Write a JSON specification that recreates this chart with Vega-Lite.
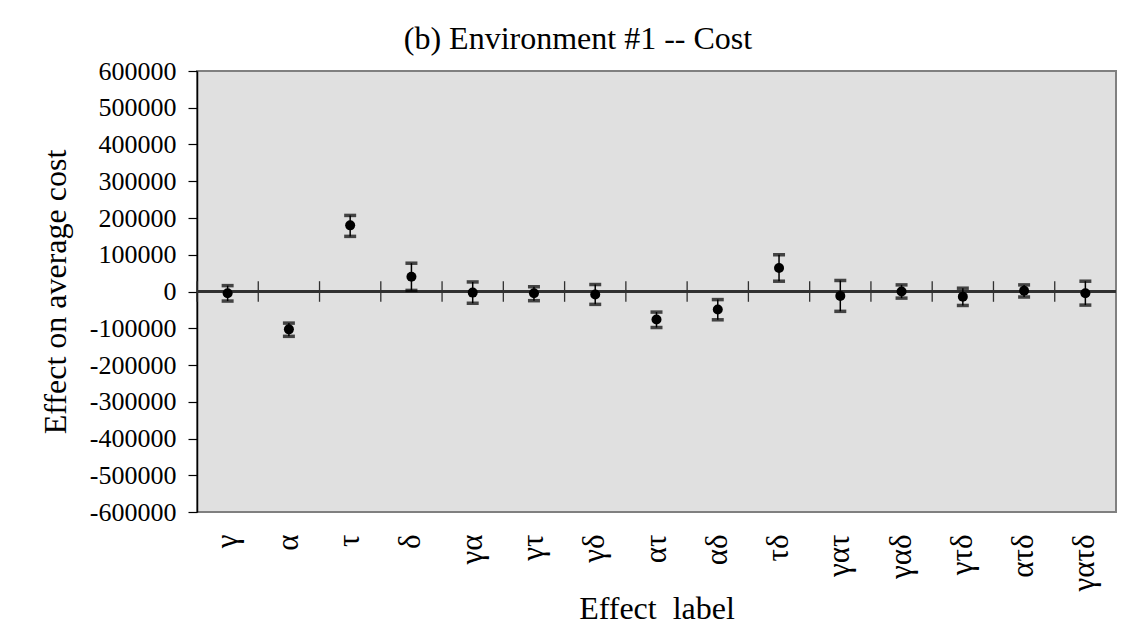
{
  "$schema": "https://vega.github.io/schema/vega-lite/v6.json",
  "autosize": {"type": "none"},
  "padding": {"left": 197, "top": 71, "right": 12, "bottom": 121},
  "width": 919,
  "height": 441,
  "background": "white",
  "config": {
    "font": "Liberation Serif",
    "view": {"fill": "#e0e0e0", "stroke": "#808080", "strokeWidth": 2},
    "axis": {"labelFont": "Liberation Serif", "titleFont": "Liberation Serif", "labelColor": "black", "titleColor": "black", "titleFontWeight": "normal", "labelFontSize": 26, "titleFontSize": 32},
    "axisY": {"tickCount": 20, "labelOverlap": false, "grid": false}
  },
  "title": {"text": "(b) Environment #1 -- Cost", "font": "Liberation Serif", "fontSize": 32, "fontWeight": "normal", "color": "black", "anchor": "middle", "frame": "bounds", "offset": 2},
  "data": {"values": [
    {"label": "γ", "mean": -5000, "lo": -26000, "hi": 16000},
    {"label": "α", "mean": -103000, "lo": -122000, "hi": -86000},
    {"label": "τ", "mean": 180000, "lo": 150000, "hi": 207000},
    {"label": "δ", "mean": 40000, "lo": 3000, "hi": 77000},
    {"label": "γα", "mean": -3000, "lo": -32000, "hi": 26000},
    {"label": "γτ", "mean": -5000, "lo": -25000, "hi": 13000},
    {"label": "γδ", "mean": -8000, "lo": -35000, "hi": 19000},
    {"label": "ατ", "mean": -76000, "lo": -98000, "hi": -56000},
    {"label": "αδ", "mean": -49000, "lo": -77000, "hi": -22000},
    {"label": "τδ", "mean": 64000, "lo": 28000, "hi": 100000},
    {"label": "γατ", "mean": -12000, "lo": -54000, "hi": 30000},
    {"label": "γαδ", "mean": 0, "lo": -18000, "hi": 18000},
    {"label": "γτδ", "mean": -14000, "lo": -38000, "hi": 9000},
    {"label": "ατδ", "mean": 2000, "lo": -15000, "hi": 18000},
    {"label": "γατδ", "mean": -5000, "lo": -37000, "hi": 28000}
  ]},
  "encoding": {
    "x": {"field": "label", "type": "nominal", "sort": null,
      "scale": {"paddingInner": 0, "paddingOuter": 0},
      "axis": {"title": "Effect \u00a0label", "labelAngle": -90, "labelPadding": 22, "labelFontSize": 31, "ticks": false, "domain": false, "titlePadding": 2}}
  },
  "layer": [
    {"mark": {"type": "rule", "color": "#303030", "strokeWidth": 1.3},
     "encoding": {"x": null, "y": {"datum": 0, "type": "quantitative", "scale": {"domain": [-600000, 600000], "nice": false},
       "axis": {"title": "Effect on average cost", "values": [-600000, -500000, -400000, -300000, -200000, -100000, 0, 100000, 200000, 300000, 400000, 500000, 600000], "tickCount": 20, "labelOverlap": false, "labelExpr": "datum.value < 0 ? '-' + format(-datum.value, 'd') : format(datum.value, 'd')", "grid": false, "tickSize": 9, "tickColor": "black", "domainColor": "black", "domainWidth": 1.5, "tickWidth": 1.2, "labelPadding": 12, "titlePadding": 17}}}},
    {"mark": {"type": "rule", "color": "#303030", "strokeWidth": 1.3},
     "encoding": {"x": {"field": "label", "type": "nominal", "sort": null, "bandPosition": 0}, "y": {"datum": -28000, "type": "quantitative"}, "y2": {"datum": 28000}}},
    {"mark": {"type": "rule", "color": "black", "strokeWidth": 1.5},
     "encoding": {"y": {"field": "lo", "type": "quantitative"}, "y2": {"field": "hi"}}},
    {"mark": {"type": "tick", "color": "black", "size": 12, "thickness": 3.5, "orient": "horizontal"},
     "encoding": {"y": {"field": "lo", "type": "quantitative"}}},
    {"mark": {"type": "tick", "color": "black", "size": 12, "thickness": 3.5, "orient": "horizontal"},
     "encoding": {"y": {"field": "hi", "type": "quantitative"}}},
    {"mark": {"type": "circle", "color": "black", "opacity": 1, "size": 100},
     "encoding": {"y": {"field": "mean", "type": "quantitative"}}}
  ]
}
